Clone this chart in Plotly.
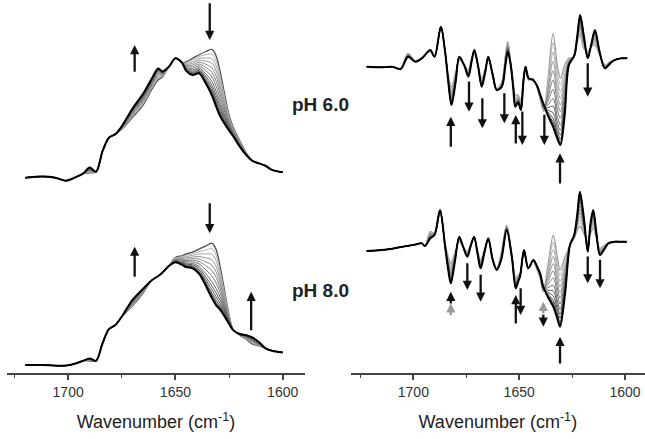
import plotly.graph_objects as go

# ---------------- data ----------------
# Amide I absorbance, pH 6.0 (normalised units)
abs6_wn = [1720, 1712, 1706, 1701, 1697, 1693, 1690, 1687, 1684, 1681, 1678, 1675, 1670, 1665, 1661,
           1658, 1656, 1653, 1650, 1647, 1645, 1642, 1639, 1636, 1633, 1631, 1629, 1627, 1625, 1623,
           1620, 1617, 1614, 1611, 1608, 1605, 1600]
abs6_start = [0.0, 0.01, 0.0, -0.025, 0.0, 0.035, 0.04, 0.05, 0.22, 0.335, 0.365, 0.405, 0.505, 0.61, 0.74,
              0.82, 0.845, 0.93, 1.0, 0.965, 0.97, 1.0, 1.03, 1.055, 1.075, 1.02, 0.875, 0.695, 0.525, 0.42,
              0.31, 0.21, 0.14, 0.12, 0.10, 0.065, 0.045]
abs6_end = [0.0, 0.01, 0.0, -0.025, 0.0, 0.035, 0.085, 0.05, 0.22, 0.335, 0.365, 0.43, 0.58, 0.705, 0.83,
            0.915, 0.89, 0.93, 1.0, 0.965, 0.895, 0.86, 0.875, 0.795, 0.69, 0.595, 0.51, 0.45, 0.395, 0.345,
            0.26, 0.19, 0.14, 0.12, 0.10, 0.065, 0.045]

# Amide I absorbance, pH 8.0
abs8_wn = [1720, 1712, 1706, 1701, 1697, 1693, 1690, 1687, 1684, 1681, 1678, 1675, 1670, 1665, 1661,
           1658, 1656, 1653, 1650, 1647, 1645, 1642, 1639, 1636, 1633, 1631, 1629, 1627, 1625, 1623,
           1620, 1617, 1614, 1611, 1608, 1605, 1600]
abs8_start = [0.0, 0.0, -0.005, -0.005, 0.01, 0.035, 0.035, 0.035, 0.18, 0.30, 0.335, 0.405, 0.495, 0.605, 0.71,
              0.745, 0.775, 0.83, 0.90, 0.915, 0.93, 0.945, 0.97, 0.995, 1.02, 0.965, 0.81, 0.615, 0.42, 0.295,
              0.25, 0.215, 0.175, 0.16, 0.14, 0.12, 0.105]
abs8_end = [0.0, 0.0, -0.005, -0.005, 0.01, 0.035, 0.055, 0.035, 0.18, 0.30, 0.335, 0.405, 0.545, 0.64, 0.71,
            0.745, 0.775, 0.83, 0.86, 0.84, 0.82, 0.81, 0.765, 0.67, 0.56, 0.50, 0.46, 0.405, 0.345, 0.29,
            0.26, 0.25, 0.23, 0.19, 0.14, 0.12, 0.105]

# Second-derivative spectra, pH 6.0 (inverted, arbitrary units)
d6_wn = [1722, 1715, 1710, 1706, 1702.5, 1699, 1696, 1692, 1690, 1687, 1685, 1683.5, 1682, 1680, 1678.3,
         1676, 1674, 1672.5, 1671.2, 1669.5, 1667.7, 1666, 1664.6, 1662.5, 1660.6, 1658.2, 1656.5, 1655.4,
         1654, 1652.8, 1651.8, 1650.5, 1649.2, 1648, 1647, 1645.5, 1643.5, 1641.7, 1640, 1638.3, 1636.5,
         1634, 1632, 1630.5, 1628.5, 1626.5, 1624, 1622.5, 1621.2, 1619.5, 1617.6, 1616, 1614.2, 1612,
         1609.5, 1607, 1605, 1602, 1599]
d6_start = [0.0, -0.02, 0.0, -0.05, 0.40, 0.17, 0.27, 0.45, 0.30, 1.15, 0.45, -0.25, -0.60, -0.15, 0.20,
            0.05, -0.10, 0.25, 0.40, 0.05, -0.35, -0.05, 0.20, -0.20, -0.67, -0.45, 0.35, 0.75,
            0.15, -0.45, -0.85, -0.85, -1.00, -0.35, -0.10, -0.40, -0.35, -0.60, -1.00, -1.35, -0.45,
            1.00, 0.05, -0.35, 0.05, 0.25, 0.30, 0.75, 0.95, 0.55, 0.45, 0.60, 0.65, 0.35,
            0.05, 0.15, 0.20, 0.25, 0.25]
d6_end = [0.0, -0.02, 0.0, -0.07, 0.30, 0.15, 0.25, 0.50, 0.30, 1.20, 0.45, -0.45, -1.15, -0.45, 0.30,
          0.05, -0.30, 0.15, 0.50, 0.05, -0.60, -0.15, 0.30, -0.25, -0.70, -0.60, 0.05, 0.45,
          0.05, -0.65, -1.20, -1.07, -1.30, -0.45, 0.00, -0.35, -0.40, -0.55, -0.85, -1.15, -1.45,
          -1.80, -2.15, -2.35, -1.45, 0.05, 0.33, 0.95, 1.55, 0.95, 0.25, 0.65, 1.10, 0.45,
          -0.05, 0.10, 0.20, 0.25, 0.25]

# Second-derivative spectra, pH 8.0
d8_wn = [1722, 1715, 1710, 1705, 1700, 1696, 1694.5, 1692, 1690, 1687.4, 1685, 1683.5, 1682.3, 1680.5,
         1678.3, 1676.5, 1674.5, 1673, 1671.3, 1669.7, 1668.2, 1666.5, 1664.6, 1662.5, 1660.6, 1658.5,
         1655.9, 1653.5, 1651.6, 1650.5, 1649.6, 1647.7, 1645.7, 1643.3, 1641.5, 1640.1, 1638.6, 1636.5,
         1633.9, 1632, 1630.7, 1628.3, 1626, 1624, 1622.5, 1621.3, 1619.5, 1617.6, 1616.3, 1615, 1613.5,
         1611.8, 1609.5, 1607.9, 1605, 1602.4, 1599.2]
d8_start = [-0.01, 0.02, 0.06, 0.12, 0.17, 0.22, 0.14, 0.57, 0.52, 1.12, 0.22, -0.18, -0.38, -0.08,
            0.27, 0.12, -0.03, 0.17, 0.37, 0.02, -0.28, 0.02, 0.32, -0.23, -0.53, -0.08,
            0.77, -0.08, -0.83, -0.73, -0.68, -0.08, -0.48, -0.33, -0.58, -0.83, -1.23, -0.48,
            0.47, -0.18, -0.58, -0.18, 0.17, 0.37, 0.62, 0.72, 0.52, 0.27, 0.52, 0.67, 0.37,
            0.07, 0.17, 0.22, 0.27, 0.27, 0.27]
d8_end = [-0.01, 0.02, 0.06, 0.12, 0.17, 0.22, 0.14, 0.37, 0.47, 1.22, 0.12, -0.58, -0.98, -0.38,
          0.42, 0.12, -0.18, 0.12, 0.42, -0.08, -0.53, -0.08, 0.37, -0.28, -0.58, -0.28,
          0.62, -0.18, -1.13, -0.93, -0.78, 0.02, -0.53, -0.28, -0.48, -0.68, -1.08, -1.38,
          -1.68, -2.03, -2.28, -1.28, 0.17, 0.47, 1.12, 1.77, 1.02, -0.03, 0.82, 1.22, 0.52,
          -0.13, 0.07, 0.22, 0.27, 0.27, 0.27]

mix_levels = [0.0, 0.1, 0.2, 0.3, 0.4, 0.5, 0.6, 0.7, 0.78, 0.85, 0.91, 0.95, 0.98, 1.0]

# arrows: (wavenumber, tail value, head value, colour)
arrows_abs6 = [(1669, 0.874, 1.111, "#111"), (1634, 1.474, 1.153, "#111")]
arrows_abs8 = [(1669, 0.726, 0.991, "#111"), (1634, 1.368, 1.103, "#111"), (1614.7, 0.279, 0.614, "#111")]
arrows_d6 = [(1682.3, -2.45, -1.50, "#111"), (1651.6, -2.35, -1.45, "#111"), (1630.7, -3.55, -2.60, "#111"),
             (1673.7, -0.40, -1.35, "#111"), (1667.4, -0.90, -1.85, "#111"), (1657.0, -0.75, -1.70, "#111"),
             (1648.5, -1.30, -2.35, "#111"), (1638.1, -1.40, -2.35, "#111"), (1617.6, 0.15, -0.90, "#111")]
arrows_d8 = [(1682.3, -1.63, -1.23, "#111"), (1682.3, -1.98, -1.58, "#9a9a9a"),
             (1651.6, -2.23, -1.33, "#111"), (1630.7, -3.43, -2.58, "#111"),
             (1674.5, -0.33, -1.18, "#111"), (1668.2, -0.68, -1.53, "#111"), (1649.3, -1.08, -1.93, "#111"),
             (1638.6, -1.88, -2.28, "#111"), (1638.6, -1.93, -1.53, "#9a9a9a"),
             (1617.6, -0.13, -0.98, "#111"), (1611.8, -0.23, -1.13, "#111")]

x_ticks = [1700, 1650, 1600]
x_minor = [1725, 1675, 1625]
panel_labels = ["pH 6.0", "pH 8.0"]
x_title = "Wavenumber (cm<sup>-1</sup>)"

# ---------------- layout constants ----------------
W, H = 645, 439
AX_Y = 373  # pixel row of the x axis line
FONT = "Liberation Sans, Arial, sans-serif"


def yrange(base_px, px_per_unit):
    return [-(AX_Y - base_px) / px_per_unit, base_px / px_per_unit]


def grey(level, c0, c1):
    v = int(round(c0 + (c1 - c0) * level))
    return f"rgb({v},{v},{v})"


fig = go.Figure()


def add_family(wn, start, end, xa, ya, first_col, light, dark):
    n = len(mix_levels)
    for i, t in enumerate(mix_levels):
        yv = [s + (e - s) * t for s, e in zip(start, end)]
        if i == 0:
            col, w = first_col, 1.3
        elif i == n - 1:
            col, w = "#000000", 2.0
        else:
            col, w = grey(t, light, dark), 1.0
        fig.add_trace(go.Scatter(x=wn, y=yv, xaxis=xa, yaxis=ya, mode="lines",
                                 line=dict(color=col, width=w, shape="spline", smoothing=0.9),
                                 hoverinfo="skip", showlegend=False))


add_family(abs6_wn, abs6_start, abs6_end, "x", "y", "#4a4a4a", 190, 60)
add_family(abs8_wn, abs8_start, abs8_end, "x", "y3", "#4a4a4a", 190, 60)
add_family(d6_wn, d6_start, d6_end, "x2", "y2", "#9a9a9a", 200, 60)
add_family(d8_wn, d8_start, d8_end, "x2", "y4", "#9a9a9a", 200, 60)

annotations = []


def add_arrows(lst, xr, yr):
    for wn, tail, head, col in lst:
        annotations.append(dict(x=wn, y=head, ax=wn, ay=tail, xref=xr, yref=yr, axref=xr, ayref=yr,
                                showarrow=True, arrowhead=2, arrowsize=0.8, arrowwidth=2.3,
                                arrowcolor=col, text=""))


add_arrows(arrows_abs6, "x", "y")
add_arrows(arrows_abs8, "x", "y3")
add_arrows(arrows_d6, "x2", "y2")
add_arrows(arrows_d8, "x2", "y4")

for lab, ypx in zip(panel_labels, [104, 290]):
    annotations.append(dict(text=f"<b>{lab}</b>", x=320 / W, y=1 - ypx / H, xref="paper", yref="paper",
                            showarrow=False, xanchor="center", yanchor="middle",
                            font=dict(family=FONT, size=19, color="#222")))

xcommon = dict(tickvals=x_ticks, ticks="outside", ticklen=5, tickwidth=1.5, tickcolor="#444",
               showline=True, linecolor="#444", linewidth=2, showgrid=False, zeroline=False,
               tickfont=dict(family=FONT, size=14, color="#333"),
               minor=dict(tickvals=x_minor, ticks="outside", ticklen=3, tickwidth=1.2, tickcolor="#444"),
               title=dict(text=x_title, font=dict(family=FONT, size=18, color="#222"), standoff=17),
               automargin=False)

ycommon = dict(visible=False, showgrid=False, zeroline=False, fixedrange=True)
ydom = [1 - AX_Y / H, 1.0]

fig.update_layout(
    width=W, height=H, margin=dict(l=0, r=0, t=0, b=0),
    paper_bgcolor="white", plot_bgcolor="rgba(0,0,0,0)", showlegend=False,
    xaxis=dict(domain=[7 / W, 305 / W], range=[1728.5, 1589.6], anchor="y", **xcommon),
    xaxis2=dict(domain=[350.7 / W, 1.0], range=[1729.6, 1590.55], anchor="y2", **xcommon),
    yaxis=dict(domain=ydom, range=yrange(177.7, 119.4), anchor="x", **ycommon),
    yaxis3=dict(range=yrange(365.0, 119.4), overlaying="y", anchor="x", **ycommon),
    yaxis2=dict(domain=ydom, range=yrange(66.7, 33.33), anchor="x2", **ycommon),
    yaxis4=dict(range=yrange(250.7, 33.33), overlaying="y2", anchor="x2", **ycommon),
    annotations=annotations,
)

fig.write_html("out.html", config={"displayModeBar": False},
               post_script="document.body.style.margin='0px';document.body.style.padding='0px';")
